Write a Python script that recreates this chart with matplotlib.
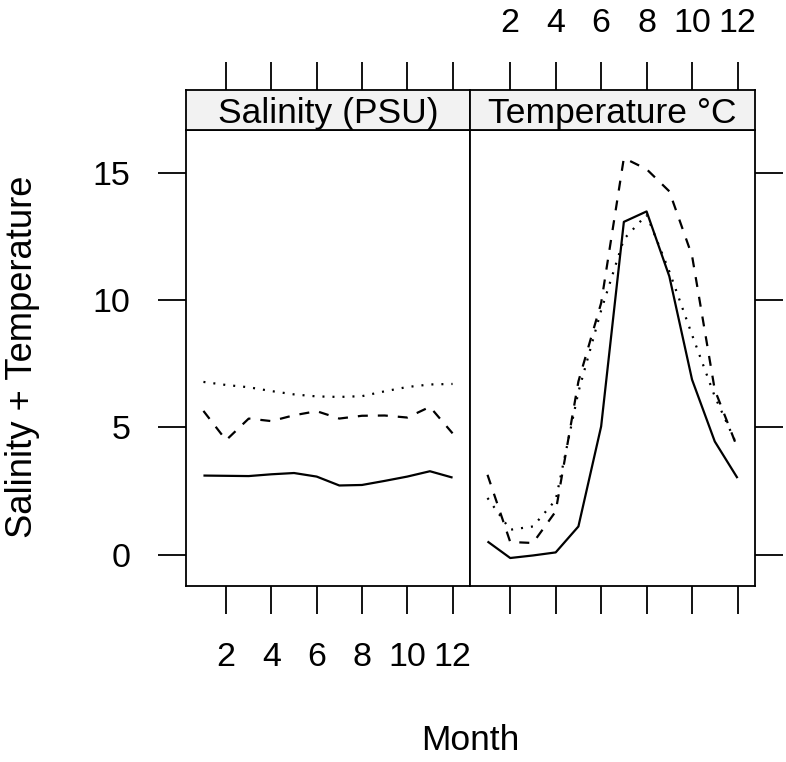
import numpy as np
import matplotlib
matplotlib.use('Agg')
import matplotlib.pyplot as plt

plt.rcParams['font.family'] = ['Liberation Sans', 'DejaVu Sans']

# ---- data ----
months = np.arange(1, 13)
panels = ['Salinity (PSU)', 'Temperature \u00b0C']

sal_solid = [3.11, 3.10, 3.09, 3.16, 3.21, 3.07, 2.72, 2.74, 2.90, 3.07, 3.28, 3.03]
sal_dashed = [5.65, 4.50, 5.35, 5.25, 5.48, 5.64, 5.35, 5.46, 5.47, 5.39, 5.81, 4.77]
sal_dotted = [6.79, 6.67, 6.58, 6.43, 6.30, 6.22, 6.20, 6.23, 6.42, 6.59, 6.69, 6.71]

temp_solid = [0.52, -0.13, -0.03, 0.09, 1.11, 5.04, 13.08, 13.49, 10.94, 6.88, 4.45, 3.01]
temp_dashed = [3.14, 0.50, 0.46, 1.70, 6.81, 9.89, 15.59, 15.15, 14.28, 11.75, 6.48, 4.19]
temp_dotted = [2.23, 0.98, 1.11, 2.15, 6.40, 9.60, 12.40, 13.36, 11.13, 8.64, 6.22, 4.26]

series = [
    (sal_solid, sal_dashed, sal_dotted),
    (temp_solid, temp_dashed, temp_dotted),
]

x_ticks = [2, 4, 6, 8, 10, 12]
y_ticks = [0, 5, 10, 15]
XLIM = (0.23, 12.77)
YLIM = (-1.23, 16.69)

# line styles (lattice lty 1, 2, 3)
STYLES = [
    dict(linestyle='-'),
    dict(linestyle=(0, (4.5, 4.5))),
    dict(linestyle=(0, (0.9, 3.6))),
]

W, H = 786, 762
fig = plt.figure(figsize=(W / 100, H / 100), dpi=100)


def rect(x0, y0, x1, y1):
    # pixel box -> figure fraction
    return [x0 / W, (H - y1) / H, (x1 - x0) / W, (y1 - y0) / H]


panel_x = [(186, 470), (470, 755)]
PANEL_TOP, PANEL_BOT = 130, 586
STRIP_TOP = 90

TICK_LEN = 20
TICK_W = 1.3
FS_TICK = 24.5
LW_BOX = 1.3

for i, ((x0, x1), title, data) in enumerate(zip(panel_x, panels, series)):
    ax = fig.add_axes(rect(x0, PANEL_TOP, x1, PANEL_BOT))
    for vals, st in zip(data, STYLES):
        ax.plot(months, vals, color='black', linewidth=1.6,
                solid_capstyle='butt', dash_capstyle='butt', **st)
    ax.set_xlim(*XLIM)
    ax.set_ylim(*YLIM)
    for sp in ax.spines.values():
        sp.set_linewidth(LW_BOX)

    ax.set_xticks(x_ticks)
    ax.set_yticks(y_ticks)
    ax.tick_params(direction='out', length=TICK_LEN, width=TICK_W,
                   labelsize=FS_TICK, top=False)
    if i == 0:
        ax.tick_params(axis='x', bottom=True, labelbottom=True, pad=20)
        ax.tick_params(axis='y', left=True, labelleft=True, right=False, pad=20)
    else:
        ax.tick_params(axis='x', bottom=True, labelbottom=False)
        ax.tick_params(axis='y', left=False, labelleft=False,
                       right=True, labelright=False)

    # strip with the top axis ticks above it
    sax = fig.add_axes(rect(x0, STRIP_TOP, x1, PANEL_TOP))
    sax.set_facecolor('#f2f2f2')
    sax.set_xlim(*XLIM)
    sax.set_yticks([])
    sax.set_xticks(x_ticks)
    sax.xaxis.set_ticks_position('top')
    sax.tick_params(axis='x', direction='out', length=TICK_LEN, width=TICK_W,
                    labelsize=FS_TICK, labeltop=(i == 1), pad=16.5)
    for sp in sax.spines.values():
        sp.set_linewidth(LW_BOX)
    sax.text(0.5, 0.175, title, transform=sax.transAxes, ha='center',
             va='baseline', fontsize=25.5)

fig.text(470 / W, 1 - 741 / H, 'Month', ha='center', va='center', fontsize=25.5)
fig.text(23 / W, 1 - 357 / H, 'Salinity + Temperature', ha='center',
         va='center', rotation=90, fontsize=26.2)

fig.savefig('out.png', dpi=100)
